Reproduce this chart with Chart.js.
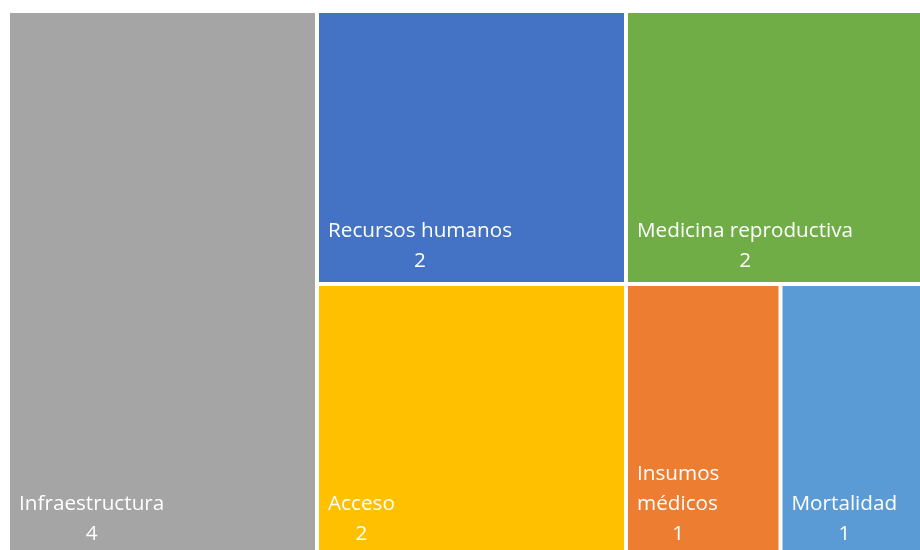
<!DOCTYPE html>
<html>
<head>
<meta charset="utf-8">
<script src="https://cdn.jsdelivr.net/npm/chart.js@4.4.1/dist/chart.umd.min.js"></script>
<style>
    html, body { margin: 0; padding: 0; background: #fff; overflow: hidden; }
    #wrap { position: absolute; left: 0; top: 0; width: 940px; height: 560px; }
</style>
</head>
<body>
<div id="wrap"><canvas id="treemapChart"></canvas></div>
<script>
const categories = ['Infraestructura', 'Recursos humanos', 'Medicina reproductiva', 'Acceso', 'Insumos médicos', 'Mortalidad'];
const values = [4, 2, 2, 2, 1, 1];
const colors = ['#A5A5A5', '#4472C4', '#70AD47', '#FFC000', '#ED7D31', '#5B9BD5'];

// treat a box as "wide" only when clearly wider than tall (mimics Office layout)
const squareBias = 1.15;

function worstRatio(areas, side) {
    const sum = areas.reduce((a, b) => a + b, 0);
    const thick = sum / side;
    let worst = 0;
    areas.forEach(a => {
        const len = a / thick;
        worst = Math.max(worst, thick / len, len / thick);
    });
    return worst;
}

// squarified layout, returns rects in pixel space
function squarify(vals, x, y, w, h) {
    const total = vals.reduce((a, b) => a + b, 0);
    const scale = (w * h) / total;
    let items = vals.map((v, i) => ({ i, area: v * scale }));
    const rects = [];
    while (items.length) {
        const wide = w > h * squareBias;
        const side = wide ? h : w;
        let row = [items[0]];
        let k = 1;
        while (k < items.length) {
            const next = row.concat(items[k]);
            if (worstRatio(next.map(r => r.area), side) <= worstRatio(row.map(r => r.area), side)) {
                row = next;
                k++;
            } else break;
        }
        const sum = row.reduce((a, r) => a + r.area, 0);
        const thick = sum / side;
        let pos = 0;
        row.forEach(r => {
            const len = r.area / thick;
            if (wide) rects[r.i] = { x: x, y: y + pos, w: thick, h: len };
            else rects[r.i] = { x: x + pos, y: y, w: len, h: thick };
            pos += len;
        });
        if (wide) { x += thick; w -= thick; } else { y += thick; h -= thick; }
        items = items.slice(k);
    }
    return rects;
}

function wrapText(ctx, text, maxWidth) {
    const words = text.split(' ');
    const lines = [];
    let line = '';
    words.forEach(word => {
        const test = line ? line + ' ' + word : word;
        if (line && ctx.measureText(test).width > maxWidth) {
            lines.push(line);
            line = word;
        } else {
            line = test;
        }
    });
    lines.push(line);
    return lines;
}

const treemapPlugin = {
    id: 'treemapPlugin',
    afterDraw(chart) {
        const ctx = chart.ctx;
        const xs = chart.scales.x;
        const ys = chart.scales.y;
        const left = xs.getPixelForValue(0);
        const right = xs.getPixelForValue(1);
        const top = ys.getPixelForValue(0);
        const bottom = ys.getPixelForValue(1);
        const rects = squarify(values, left, top, right - left, bottom - top);
        const gap = 2;
        const pad = 9;

        ctx.save();
        rects.forEach((r, i) => {
            ctx.fillStyle = colors[i];
            ctx.fillRect(r.x + gap, r.y + gap, r.w - gap * 2, r.h - gap * 2);
        });

        ctx.font = '20.7px "Open Sans", sans-serif';
        ctx.fillStyle = '#ffffff';
        ctx.textBaseline = 'middle';
        rects.forEach((r, i) => {
            const lines = wrapText(ctx, categories[i], r.w - gap * 2 - pad * 2);
            const maxW = Math.max(...lines.map(l => ctx.measureText(l).width));
            const x0 = r.x + gap + pad;
            const valueY = r.y + r.h - gap - 21;
            const lineH = 30;
            ctx.textAlign = 'left';
            lines.forEach((l, j) => {
                ctx.fillText(l, x0, valueY - lineH * (lines.length - j));
            });
            ctx.textAlign = 'center';
            ctx.fillText(String(values[i]), x0 + maxW / 2, valueY);
        });
        ctx.restore();
    }
};

new Chart(document.getElementById('treemapChart').getContext('2d'), {
    type: 'scatter',
    data: { datasets: [{ data: [], pointRadius: 0 }] },
    options: {
        responsive: true,
        maintainAspectRatio: false,
        animation: false,
        layout: { padding: { left: 8, top: 11, right: 5, bottom: 3 } },
        plugins: { legend: { display: false }, tooltip: { enabled: false } },
        scales: {
            x: { type: 'linear', min: 0, max: 1, display: false },
            y: { type: 'linear', min: 0, max: 1, reverse: true, display: false }
        }
    },
    plugins: [treemapPlugin]
});
</script>
</body>
</html>
